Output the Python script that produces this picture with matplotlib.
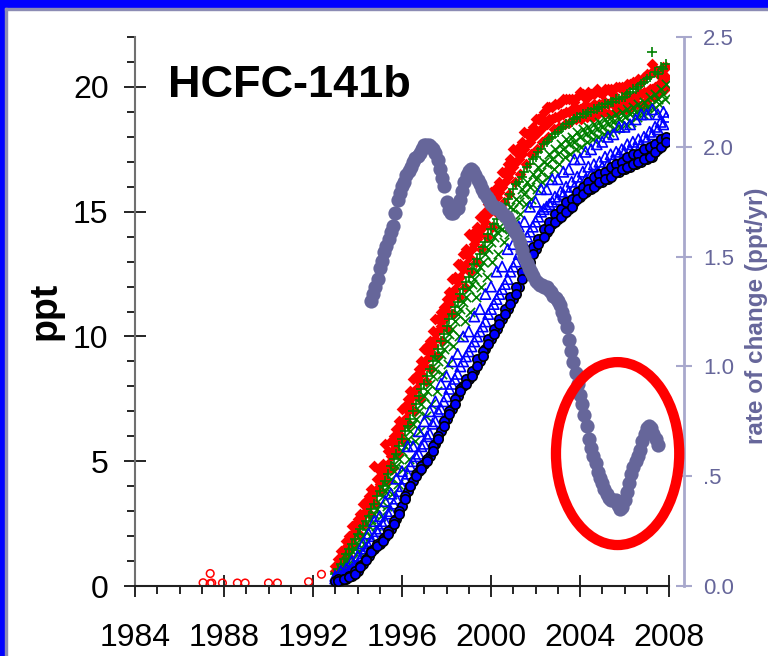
import numpy as np
import matplotlib
matplotlib.use("Agg")
import matplotlib.pyplot as plt
from matplotlib.patches import Ellipse, Rectangle
from matplotlib.ticker import MultipleLocator, FixedLocator, FixedFormatter

plt.rcParams['font.family'] = ['Liberation Sans', 'DejaVu Sans']

# in situ records, quarterly steps; each list has its own start offset (yr)
station_start = 1993.0
station_step = 0.25

red_on_a = [0.6, 1.0, 1.4, 1.9, 2.4, 2.8, 3.2, 3.7, 4.1, 4.6,
            5.2, 5.8, 6.4, 7.0, 7.6, 8.2, 8.8, 9.3, 9.9, 10.4,
            11.0, 11.6, 12.2, 12.7, 13.2, 13.7, 14.1, 14.6, 15.1, 15.6,
            16.0, 16.4, 16.8, 17.1, 17.5, 17.8, 18.1, 18.3, 18.5, 18.7,
            18.8, 18.9, 19.0, 19.0, 19.1, 19.1, 19.2, 19.2, 19.3, 19.3,
            19.3, 19.4, 19.4, 19.5, 19.6, 19.7, 19.8, 19.9, 20.0, 20.2]
red_on_b = [0.8, 1.4, 1.8, 2.4, 2.7, 3.3, 3.6, 4.8, 4.6, 5.7,
            5.8, 6.3, 7.1, 7.5, 8.3, 8.7, 9.5, 9.8, 10.7, 11.0,
            11.5, 12.3, 12.9, 13.3, 14.1, 14.2, 14.8, 15.0, 15.8, 16.0,
            16.6, 16.9, 17.5, 17.6, 18.2, 18.2, 18.7, 18.8, 19.2, 19.2,
            19.3, 19.5, 19.5, 19.4, 19.8, 19.5, 19.7, 19.9, 19.7, 19.9,
            19.7, 20.0, 19.8, 20.1, 20.2, 20.2, 20.5, 20.9, 20.5, 20.8]
red_off_a = [0.9, 1.2, 1.7, 2.2, 2.6, 3.0, 3.5, 3.9, 4.4, 4.9,
             5.5, 6.1, 6.7, 7.3, 7.9, 8.5, 9.1, 9.6, 10.2, 10.7,
             11.3, 11.9, 12.4, 12.9, 13.5, 13.9, 14.4, 14.9, 15.3, 15.8,
             16.2, 16.6, 17.0, 17.3, 17.7, 18.0, 18.2, 18.5, 18.7, 18.8,
             18.9, 19.0, 19.1, 19.1, 19.2, 19.2, 19.3, 19.3, 19.4, 19.4,
             19.4, 19.5, 19.5, 19.6, 19.7, 19.8, 19.9, 20.0, 20.2, 20.4]
red_off_b = [1.1, 1.5, 2.0, 2.5, 2.9, 3.4, 3.9, 4.3, 4.9, 5.4,
             6.0, 6.6, 7.2, 7.8, 8.4, 9.0, 9.6, 10.2, 10.7, 11.2,
             11.8, 12.4, 12.9, 13.5, 14.0, 14.4, 14.8, 15.3, 15.8, 16.2,
             16.6, 17.1, 17.4, 17.8, 18.1, 18.4, 18.7, 19.0, 19.2, 19.3,
             19.4, 19.5, 19.5, 19.6, 19.7, 19.8, 19.7, 19.8, 19.9, 19.9,
             20.0, 20.0, 20.1, 20.2, 20.3, 20.4, 20.5, 20.7, 20.6, 20.8]
red_mid_low = [0.5, 0.8, 1.2, 1.6, 2.1, 2.5, 2.9, 3.3, 3.8, 4.2,
               4.7, 5.3, 5.8, 6.5, 7.0, 7.5, 8.2, 8.7, 9.2, 9.8,
               10.3, 10.9, 11.6, 12.0, 12.6, 13.0, 13.5, 14.0, 14.4, 14.9,
               15.4, 15.7, 16.2, 16.5, 16.9, 17.3, 17.5, 17.8, 18.0, 18.3,
               18.4, 18.5, 18.6, 18.7, 18.7, 18.8, 18.8, 18.9, 19.0, 18.9,
               19.0, 19.1, 19.1, 19.2, 19.3, 19.3, 19.5, 19.6, 19.8, 19.9]

green_x_on = [0.4, 0.7, 1.0, 1.4, 1.7, 2.0, 2.4, 2.9, 3.3, 3.8,
              4.3, 4.8, 5.4, 5.9, 6.5, 7.0, 7.6, 8.1, 8.7, 9.3,
              9.8, 10.3, 10.9, 11.4, 11.9, 12.3, 12.8, 13.3, 13.8, 14.2,
              14.3, 14.7, 15.1, 15.4, 15.7, 16.0, 16.3, 16.6, 16.9, 17.1,
              17.3, 17.5, 17.7, 17.8, 18.0, 18.1, 18.2, 18.3, 18.4, 18.5,
              18.6, 18.7, 18.8, 18.9, 19.0, 19.1, 19.2, 19.3, 19.5, 19.7]
green_x_off = [0.5, 0.8, 1.2, 1.5, 1.9, 2.2, 2.7, 3.1, 3.6, 4.0,
               4.6, 5.1, 5.6, 6.2, 6.7, 7.3, 7.8, 8.4, 9.0, 9.5,
               10.1, 10.6, 11.1, 11.6, 12.1, 12.6, 13.0, 13.5, 14.0, 14.4,
               14.8, 15.2, 15.5, 15.9, 16.2, 16.5, 16.8, 17.0, 17.3, 17.5,
               17.7, 17.9, 18.0, 18.2, 18.3, 18.4, 18.5, 18.6, 18.7, 18.8,
               18.9, 19.0, 19.1, 19.2, 19.3, 19.4, 19.6, 19.7, 19.9, 20.1]
green_x_low = [0.3, 0.5, 0.8, 1.1, 1.4, 1.7, 2.0, 2.4, 2.8, 3.2,
               3.7, 4.1, 4.7, 5.1, 5.8, 6.2, 6.8, 7.3, 7.8, 8.5,
               8.9, 9.6, 10.0, 10.6, 11.0, 11.6, 12.0, 12.4, 13.0, 13.3,
               13.8, 14.1, 14.6, 14.9, 15.3, 15.5, 15.9, 16.2, 16.4, 16.7,
               16.9, 17.2, 17.3, 17.5, 17.6, 17.8, 17.9, 18.0, 18.1, 18.2,
               18.3, 18.4, 18.5, 18.6, 18.8, 18.9, 19.0, 19.1, 19.3, 19.5]
green_plus_on = [0.5, 0.9, 1.3, 1.7, 2.1, 2.4, 2.8, 3.3, 3.8, 4.2,
                 4.8, 5.3, 5.9, 6.4, 7.0, 7.6, 8.1, 8.7, 9.2, 9.8,
                 10.4, 10.9, 11.4, 11.9, 12.4, 12.9, 13.3, 13.8, 14.3, 14.7,
                 15.1, 15.5, 15.9, 16.2, 16.6, 16.9, 17.2, 17.5, 17.8, 18.0,
                 18.2, 18.4, 18.5, 18.7, 18.8, 18.9, 19.0, 19.1, 19.2, 19.3,
                 19.4, 19.5, 19.6, 19.8, 19.9, 20.1, 20.3, 21.4, 20.5, 20.7]
green_plus_off = [0.7, 1.1, 1.5, 1.9, 2.3, 2.6, 3.1, 3.6, 4.0, 4.5,
                  5.1, 5.6, 6.2, 6.7, 7.3, 7.9, 8.4, 9.0, 9.5, 10.1,
                  10.7, 11.2, 11.7, 12.2, 12.7, 13.1, 13.6, 14.1, 14.5, 14.9,
                  15.3, 15.7, 16.1, 16.4, 16.8, 17.1, 17.4, 17.7, 17.9, 18.1,
                  18.3, 18.5, 18.6, 18.8, 18.9, 19.0, 19.1, 19.2, 19.3, 19.4,
                  19.5, 19.6, 19.7, 19.9, 20.0, 20.2, 20.4, 20.6, 20.8, 20.9]

blue_tri_on_a = [0.3, 0.4, 0.5, 0.7, 0.9, 1.3, 1.6, 2.0, 2.3, 2.6,
                 3.0, 3.5, 4.0, 4.5, 5.0, 5.3, 5.7, 6.1, 6.6, 7.1,
                 7.6, 8.1, 8.5, 9.0, 9.4, 9.8, 10.2, 10.6, 11.1, 11.5,
                 11.9, 12.3, 12.8, 13.3, 13.7, 14.2, 14.6, 15.0, 15.2, 15.4,
                 15.5, 15.7, 15.8, 16.0, 16.2, 16.3, 16.5, 16.6, 16.8, 16.9,
                 17.1, 17.3, 17.4, 17.5, 17.6, 17.7, 17.9, 18.1, 18.3, 18.5]
blue_tri_on_b = [0.4, 0.6, 0.7, 1.0, 1.2, 1.7, 2.1, 2.6, 2.8, 3.4,
                 3.7, 4.3, 4.6, 5.6, 5.6, 6.2, 6.6, 7.0, 7.4, 8.1,
                 8.4, 9.0, 9.3, 10.0, 10.2, 10.8, 11.1, 11.7, 12.0, 12.6,
                 12.8, 13.5, 13.7, 14.4, 14.6, 15.2, 15.4, 15.9, 15.9, 16.3,
                 16.3, 16.6, 16.7, 17.1, 17.1, 17.4, 17.5, 17.7, 17.8, 18.0,
                 18.1, 18.4, 18.4, 18.5, 18.7, 18.9, 18.9, 19.1, 18.9, 19.0]
blue_tri_off = [0.3, 0.5, 0.6, 0.8, 1.1, 1.5, 1.8, 2.2, 2.5, 2.9,
                3.3, 3.8, 4.3, 4.8, 5.2, 5.6, 6.0, 6.5, 7.0, 7.4,
                7.9, 8.3, 8.8, 9.2, 9.6, 10.0, 10.4, 10.9, 11.3, 11.7,
                12.1, 12.6, 13.0, 13.5, 14.0, 14.4, 14.8, 15.1, 15.3, 15.6,
                15.8, 16.0, 16.2, 16.4, 16.6, 16.8, 16.9, 17.0, 17.2, 17.3,
                17.4, 17.5, 17.7, 17.8, 17.9, 18.0, 18.2, 18.4, 18.6, 18.8]

black_on = [0.2, 0.25, 0.3, 0.4, 0.6, 0.9, 1.2, 1.5, 1.7, 1.95,
            2.3, 2.7, 3.2, 3.8, 4.2, 4.6, 4.9, 5.2, 5.7, 6.2,
            6.7, 7.1, 7.6, 8.0, 8.3, 8.6, 9.0, 9.5, 9.9, 10.3,
            10.7, 11.1, 11.5, 12.0, 12.5, 13.0, 13.5, 13.9, 14.2, 14.5,
            14.7, 14.9, 15.1, 15.4, 15.6, 15.8, 15.9, 16.1, 16.2, 16.3,
            16.5, 16.6, 16.7, 16.8, 16.9, 17.0, 17.1, 17.2, 17.5, 17.7]
black_off_a = [0.3, 0.3, 0.4, 0.6, 0.8, 1.1, 1.4, 1.7, 1.9, 2.2,
               2.6, 3.0, 3.6, 4.0, 4.5, 4.8, 5.1, 5.6, 6.0, 6.6,
               7.0, 7.5, 7.9, 8.3, 8.6, 9.1, 9.4, 9.9, 10.3, 10.7,
               11.1, 11.6, 12.0, 12.6, 13.1, 13.6, 13.9, 14.3, 14.6, 14.9,
               15.1, 15.4, 15.5, 15.8, 16.0, 16.2, 16.4, 16.5, 16.6, 16.8,
               16.9, 17.0, 17.2, 17.3, 17.3, 17.5, 17.6, 17.7, 17.9, 18.0]
black_off_b = [0.2, 0.3, 0.35, 0.5, 0.75, 1.05, 1.35, 1.6, 1.8, 2.1,
               2.5, 2.9, 3.5, 4.0, 4.4, 4.7, 5.0, 5.4, 5.9, 6.4,
               6.9, 7.3, 7.8, 8.1, 8.4, 8.8, 9.2, 9.7, 10.1, 10.5,
               10.9, 11.3, 11.7, 12.3, 12.8, 13.3, 13.7, 14.0, 14.3, 14.6,
               14.8, 15.0, 15.2, 15.5, 15.7, 15.9, 16.0, 16.2, 16.3, 16.4,
               16.6, 16.7, 16.8, 16.9, 17.0, 17.1, 17.2, 17.4, 17.6, 17.8]

# early archive / flask samples
early_years = [1987.06, 1987.38, 1987.38, 1987.45, 1987.93, 1988.6,
               1988.95, 1990.0, 1990.4, 1991.8, 1992.38]
early_ppt = [0.13, 0.5, 0.1, 0.12, 0.12, 0.12, 0.12, 0.12, 0.12, 0.17, 0.47]

# rate of change (ppt/yr), every 0.1 yr from 1994.6
rate_start = 1994.6
rate_step = 0.1
rate_values = [1.30, 1.33, 1.36, 1.40, 1.45, 1.48, 1.52, 1.55, 1.58, 1.61,
               1.64, 1.70, 1.76, 1.79, 1.82, 1.84, 1.87, 1.89, 1.91, 1.93,
               1.95, 1.96, 1.97, 1.99, 2.01, 2.01, 2.01, 2.00, 1.99, 1.97,
               1.94, 1.90, 1.86, 1.82, 1.75, 1.71, 1.70, 1.70, 1.71, 1.72,
               1.76, 1.80, 1.84, 1.87, 1.89, 1.90, 1.89, 1.87, 1.85, 1.83,
               1.81, 1.79, 1.77, 1.76, 1.74, 1.73, 1.72, 1.72, 1.71, 1.70,
               1.69, 1.68, 1.66, 1.64, 1.63, 1.61, 1.59, 1.56, 1.53, 1.50,
               1.47, 1.45, 1.43, 1.41, 1.39, 1.38, 1.37, 1.37, 1.36, 1.36,
               1.35, 1.34, 1.32, 1.31, 1.30, 1.28, 1.25, 1.22, 1.18, 1.12,
               1.07, 1.02, 0.97, 0.92, 0.87, 0.83, 0.78, 0.73, 0.67, 0.63,
               0.59, 0.56, 0.52, 0.49, 0.47, 0.44, 0.42, 0.40, 0.39, 0.39,
               0.39, 0.37, 0.35, 0.36, 0.39, 0.43, 0.47, 0.51, 0.54, 0.57,
               0.59, 0.62, 0.66, 0.69, 0.72, 0.73, 0.72, 0.69, 0.67, 0.64]

x_major = [1984, 1988, 1992, 1996, 2000, 2004, 2008]
rate_ticks = [0.0, 0.5, 1.0, 1.5, 2.0, 2.5]
rate_labels = ['0.0', '.5', '1.0', '1.5', '2.0', '2.5']

SLATE = '#66669a'
SLATE_LIGHT = '#a8a8cc'


def add_border(fig):
    # blue frame on top and left, with a thin grey inner line
    W, H = 768.0, 656.0
    fig.patches.append(Rectangle((0, 1 - 8 / H), 1, 8 / H, color='#0000ff',
                                 transform=fig.transFigure, zorder=-1))
    fig.patches.append(Rectangle((0, 0), 5 / W, 1, color='#0000ff',
                                 transform=fig.transFigure, zorder=-1))
    fig.patches.append(Rectangle((5 / W, 0), 2 / W, 1 - 8 / H, color='#8c8cb4',
                                 transform=fig.transFigure, zorder=-1))
    fig.patches.append(Rectangle((5 / W, 1 - 10 / H), 1, 2 / H, color='#8c8cb4',
                                 transform=fig.transFigure, zorder=-1))


def station_times(values, offset):
    return station_start + offset + station_step * np.arange(len(values))


def main():
    fig = plt.figure(figsize=(7.68, 6.56), dpi=100)
    ax = fig.add_axes([135 / 768, 70 / 656, 534 / 768, 549 / 656])

    ax.scatter(early_years, early_ppt, marker='o', s=30, facecolors='none',
               edgecolors='red', linewidths=1.1, zorder=2)

    for vals, off in [(red_on_a, 0), (red_on_b, 0), (red_off_a, 0.125),
                      (red_off_b, 0.125), (red_mid_low, 0.0625)]:
        ax.scatter(station_times(vals, off), vals, marker='D', s=36, color='red',
                   linewidths=0, zorder=2)
    for vals, off in [(green_x_on, 0), (green_x_off, 0.125), (green_x_low, 0.0625)]:
        ax.scatter(station_times(vals, off), vals, marker='x', s=45, color='#008000',
                   linewidths=1.2, zorder=3)
    for vals, off in [(green_plus_on, 0), (green_plus_off, 0.125)]:
        ax.scatter(station_times(vals, off), vals, marker='+', s=55, color='#008000',
                   linewidths=1.2, zorder=3)
    for vals, off in [(blue_tri_on_a, 0), (blue_tri_on_b, 0), (blue_tri_off, 0.125)]:
        ax.scatter(station_times(vals, off), vals, marker='^', s=55, facecolors='none',
                   edgecolors='#0000ff', linewidths=1.2, zorder=4)
    for vals, off in [(black_on, 0), (black_off_a, 0.125), (black_off_b, 0.125)]:
        ax.scatter(station_times(vals, off), vals, marker='o', s=45, facecolors='#0000ff',
                   edgecolors='black', linewidths=1.2, zorder=5)

    ax.set_xlim(1984, 2008)
    ax.set_ylim(0, 22)
    ax.spines['top'].set_visible(False)
    ax.spines['right'].set_visible(False)
    ax.spines['left'].set_color('#707070')
    ax.spines['left'].set_linewidth(1.5)
    ax.spines['bottom'].set_color('#202020')
    ax.spines['bottom'].set_linewidth(1.5)

    ax.xaxis.set_major_locator(FixedLocator(x_major))
    ax.xaxis.set_minor_locator(MultipleLocator(1))
    ax.yaxis.set_major_locator(MultipleLocator(5))
    ax.yaxis.set_minor_locator(MultipleLocator(1))
    ax.tick_params(axis='both', which='major', direction='inout', length=16,
                   width=1.2, labelsize=23, color='black')
    ax.tick_params(axis='both', which='minor', direction='out', length=6,
                   width=1.2, color='black')
    ax.tick_params(axis='y', which='major', pad=11)
    ax.tick_params(axis='x', which='major', pad=19)

    ax.text(0.062, 0.891, 'HCFC-141b', transform=ax.transAxes, fontsize=32.5,
            fontweight='bold', ha='left', va='baseline')

    # rate of change on the right axis
    ax2 = ax.twinx()
    ryrs = rate_start + rate_step * np.arange(len(rate_values))
    ax2.scatter(ryrs, rate_values, marker='o', s=105, color=SLATE,
                linewidths=0, zorder=3)
    ax2.set_ylim(0, 2.5)
    for side in ['left', 'top', 'bottom']:
        ax2.spines[side].set_visible(False)
    ax2.spines['right'].set_position(('outward', 11))
    ax2.spines['right'].set_color(SLATE_LIGHT)
    ax2.spines['right'].set_linewidth(2)
    ax2.yaxis.set_major_locator(FixedLocator(rate_ticks))
    ax2.yaxis.set_major_formatter(FixedFormatter(rate_labels))
    ax2.tick_params(axis='y', which='major', direction='inout', length=11,
                    width=1.5, color=SLATE_LIGHT, labelcolor=SLATE,
                    labelsize=16, pad=8)

    ring = Ellipse((2005.69, 0.603), width=5.54, height=0.833, fill=False,
                   edgecolor='#ff0000', linewidth=7.4, zorder=10, clip_on=False)
    ax2.add_patch(ring)

    fig.text(756 / 768, 1 - 316 / 656, 'rate of change (ppt/yr)', rotation=90,
             ha='center', va='center', fontsize=17.5, fontweight='bold', color=SLATE)
    fig.text(46 / 768, 1 - 311 / 656, 'ppt', rotation=90, ha='center',
             va='center', fontsize=27, fontweight='bold')

    add_border(fig)
    fig.savefig('out.png', dpi=100)


if __name__ == "__main__":
    main()
